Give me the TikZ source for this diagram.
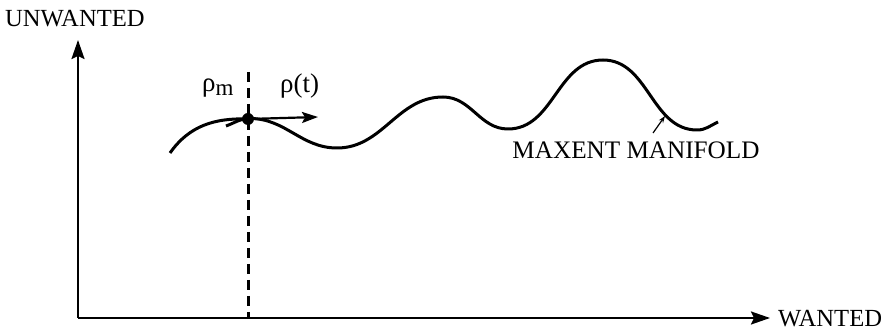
\documentclass[tikz,border=0pt]{standalone}
\usepackage{fontspec}
\setmainfont{Liberation Serif}
\usetikzlibrary{arrows.meta}
\begin{document}
\begin{tikzpicture}[x=1pt,y=1pt,
	lbl/.style={inner sep=0pt, font=\fontsize{24.6}{28}\selectfont},
	greek/.style={inner sep=0pt, anchor=base west, font=\fontsize{27}{30}\selectfont},
	axis/.style={line width=2.2pt, -{Stealth[length=19pt,width=13pt,inset=3pt]}},
	manifold/.style={line width=3pt}]
	\useasboundingbox (0,0) rectangle (887,332);
	% axes
	\coordinate (origin) at (78,14);
	\coordinate (ytip) at (78,292);
	\coordinate (xtip) at (770,14);
	\draw[axis] (origin) -- (ytip);
	\draw[axis] (origin) -- (xtip);
	\node[lbl, anchor=base west] (wanted) at (778,5) {WANTED};
	\node[lbl, anchor=base west] (unwanted) at (5,305) {UNWANTED};
	% dashed line through rho_m
	\coordinate (dtop) at (248,260);
	\coordinate (dbot) at (248,14);
	\draw[line width=3pt, dash pattern=on 10pt off 6pt] (dtop) -- (dbot);
	% manifold and trajectory
	\draw[manifold] (170,179) to[out=55,in=178] (248,213);
	\draw[manifold] (226,206) to[out=20,in=180] (250,213.5) to[out=0,in=180] (337,184)
		to[out=0,in=180] (443,235) to[out=0,in=180] (508,203) to[out=0,in=180] (603,272)
		to[out=0,in=180] (697,202) to[out=0,in=205] (718,210);
	\node[circle, fill, inner sep=0pt, minimum size=12pt] (rhom) at (248,213) {};
	\coordinate (rtip) at (318,215);
	\draw[line width=2.2pt, -{Stealth[length=16pt,width=11pt,inset=3pt]}] (rhom.center) -- (rtip);
	\node[greek] (rhomlbl) at (202,240) {ρ\raisebox{-0.3ex}{\fontsize{23}{26}\selectfont m}};
	\node[greek] (rhotlbl) at (280,239) {ρ(t)};
	% label of the manifold
	\node[lbl, font=\fontsize{25.2}{28}\selectfont, anchor=base] (maxent) at (636,173) {MAXENT MANIFOLD};
	\coordinate (mstart) at (653,199);
	\coordinate (mtip) at (665,216);
	\draw[line width=1.2pt, -{Stealth[length=7pt,width=5pt]}] (mstart) -- (mtip);
\end{tikzpicture}
\end{document}
